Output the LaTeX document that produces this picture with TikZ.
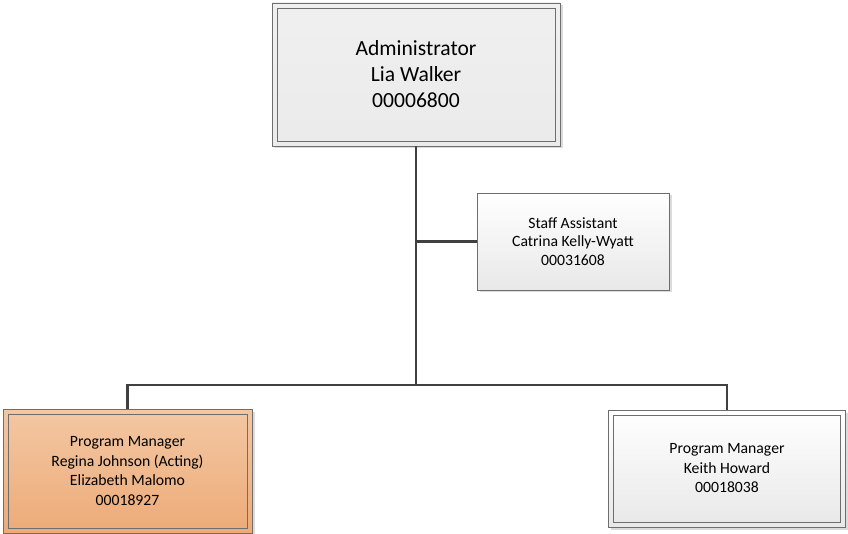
\documentclass[tikz,border=0pt]{standalone}
\usepackage{fontspec}
\setmainfont{Carlito}
\usetikzlibrary{shadows}
\definecolor{linegray}{HTML}{404040}
\definecolor{boxgray}{HTML}{6E6E6E}
\definecolor{peachtop}{HTML}{F3C7A3}
\definecolor{peachbot}{HTML}{EDAB78}
\begin{document}
\begin{tikzpicture}[x=1pt,y=-1pt,
    box/.style={draw=boxgray, line width=0.9pt, align=center, inner sep=0pt,
      top color=white, bottom color=black!9,
      drop shadow={shadow xshift=2.5pt, shadow yshift=-2.5pt, opacity=0.35, fill=black!40}},
    framed/.style={box, path picture={
      \draw[boxgray, line width=0.9pt]
        ([shift={(5pt,-5pt)}]path picture bounding box.north west) rectangle
        ([shift={(-5pt,5pt)}]path picture bounding box.south east);}},
    conn/.style={draw=linegray, line width=2.4pt}]
  \useasboundingbox (0,0) rectangle (848,534);
  \node[framed, top color=black!6, bottom color=black!8,
        minimum width=288pt, minimum height=143pt, font=\fontsize{21.6}{26}\selectfont]
    (admin) at (416,74.5) {Administrator\\Lia Walker\\00006800};
  \node[box, minimum width=192pt, minimum height=97pt, font=\fontsize{15.7}{18.5}\selectfont]
    (staff) at (573,241.5) {Staff Assistant\\Catrina Kelly-Wyatt\\00031608};
  \node[framed, top color=peachtop, bottom color=peachbot,
        minimum width=249pt, minimum height=124pt, font=\fontsize{15.7}{19.5}\selectfont]
    (pm1) at (127.5,471) {Program Manager\\Regina Johnson (Acting)\\Elizabeth Malomo\\00018927};
  \node[framed, minimum width=237pt, minimum height=117pt, font=\fontsize{15.7}{19.5}\selectfont]
    (pm2) at (727,468.5) {Program Manager\\Keith Howard\\00018038};
  \coordinate (bus) at (416,385);
  \draw[conn] (admin.south) -- (bus);
  \draw[conn] (admin.south |- staff.west) -- (staff.west);
  \draw[conn] (pm1.north) |- (bus) -| (pm2.north);
\end{tikzpicture}
\end{document}
